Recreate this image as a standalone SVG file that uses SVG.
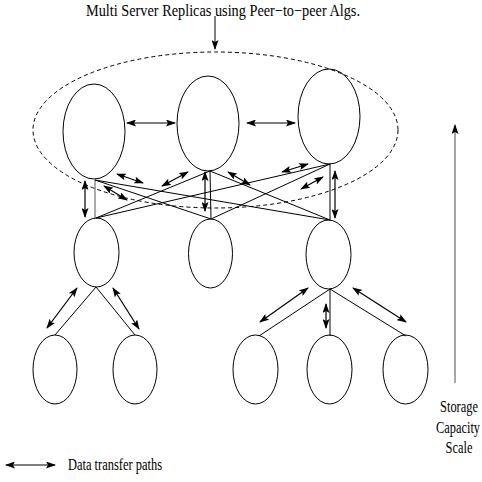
<svg xmlns="http://www.w3.org/2000/svg" width="482" height="482" viewBox="0 0 482 482">
<style>
.n{fill:none;stroke:#000;stroke-width:1}
.l{stroke:#000;stroke-width:1;fill:none}
.a{stroke:#000;stroke-width:1.2;fill:none;marker-start:url(#ah);marker-end:url(#ah)}
.t{font-family:"Liberation Serif","Times New Roman",serif;font-size:17px;fill:#000}
</style>
<defs>
<marker id="ah" viewBox="0 0 10 7" refX="9" refY="3.5" markerWidth="10" markerHeight="7" markerUnits="userSpaceOnUse" orient="auto-start-reverse">
<path d="M0,0 L10,3.5 L0,7 L2,3.5 z" fill="#000"/>
</marker>
<marker id="ae" viewBox="0 0 10 7" refX="9" refY="3.5" markerWidth="10" markerHeight="7" markerUnits="userSpaceOnUse" orient="auto">
<path d="M0,0 L10,3.5 L0,7 L2,3.5 z" fill="#000"/>
</marker>
</defs>
<rect width="482" height="482" fill="#fff"/>
<text class="t" x="86" y="16" textLength="274" lengthAdjust="spacingAndGlyphs">Multi Server Replicas using Peer−to−peer Algs.</text>
<g id="connectors">
<line x1="215" y1="16" x2="215" y2="49" stroke="#000" stroke-width="1" marker-end="url(#ae)"/>
<line x1="95" y1="180" x2="95" y2="218" stroke="#555" stroke-width="1"/>
<line x1="95" y1="180" x2="211" y2="219" class="l"/>
<line x1="95" y1="180" x2="330" y2="220" class="l"/>
<line x1="210" y1="171" x2="96" y2="218" class="l"/>
<line x1="210" y1="171" x2="211" y2="219" class="l"/>
<line x1="210" y1="171" x2="330" y2="220" class="l"/>
<line x1="330" y1="164" x2="96" y2="218" class="l"/>
<line x1="330" y1="164" x2="211" y2="219" class="l"/>
<line x1="330" y1="164" x2="330" y2="220" class="l"/>
<line x1="96" y1="287" x2="55" y2="335" class="l"/>
<line x1="96" y1="287" x2="135" y2="335" class="l"/>
<line x1="330" y1="289" x2="259" y2="336" class="l"/>
<line x1="330" y1="289" x2="330" y2="336" class="l"/>
<line x1="330" y1="289" x2="406" y2="336" class="l"/>
<line x1="127" y1="123" x2="175" y2="123" class="a"/>
<line x1="247" y1="123" x2="295" y2="123" class="a"/>
<line x1="85" y1="181" x2="85" y2="217" class="a"/>
<line x1="205" y1="172" x2="205" y2="211" class="a"/>
<line x1="335" y1="171" x2="335" y2="218" class="a"/>
<line x1="117" y1="174" x2="143" y2="183" class="a"/>
<line x1="104" y1="186" x2="127" y2="200" class="a"/>
<line x1="162" y1="186" x2="188" y2="172" class="a"/>
<line x1="228" y1="172" x2="250" y2="185" class="a"/>
<line x1="282" y1="172" x2="308" y2="164" class="a"/>
<line x1="301" y1="189" x2="323" y2="177" class="a"/>
<line x1="47" y1="328" x2="77" y2="288" class="a"/>
<line x1="113" y1="288" x2="139" y2="329" class="a"/>
<line x1="260" y1="322" x2="308" y2="288" class="a"/>
<line x1="326" y1="304" x2="326" y2="328" class="a"/>
<line x1="353" y1="288" x2="406" y2="322" class="a"/>
<line x1="455" y1="383" x2="455" y2="125" stroke="#888" stroke-width="1.5" marker-end="url(#ae)"/>
<line x1="6" y1="465" x2="55" y2="465" class="a"/>
</g>
<ellipse id="group" cx="215.5" cy="130" rx="182.5" ry="78" fill="none" stroke="#000" stroke-width="1" stroke-dasharray="4,3"/>
<g id="top1"><ellipse class="n" cx="94" cy="131.5" rx="31" ry="47.5"/></g>
<g id="top2"><ellipse class="n" cx="208" cy="123.5" rx="31" ry="47.5"/></g>
<g id="top3"><ellipse class="n" cx="329" cy="116.5" rx="31" ry="47.5"/></g>
<g id="mid1"><ellipse class="n" cx="96.5" cy="252.5" rx="22.5" ry="34.5"/></g>
<g id="mid2"><ellipse class="n" cx="210.5" cy="253.5" rx="22" ry="34.5"/></g>
<g id="mid3"><ellipse class="n" cx="328.5" cy="254.5" rx="22.5" ry="34.5"/></g>
<g id="leaf1"><ellipse class="n" cx="55" cy="369.5" rx="22" ry="34.5"/></g>
<g id="leaf2"><ellipse class="n" cx="135" cy="369.5" rx="22" ry="34.5"/></g>
<g id="leaf3"><ellipse class="n" cx="255.5" cy="369.5" rx="22.5" ry="34.5"/></g>
<g id="leaf4"><ellipse class="n" cx="329.5" cy="369.5" rx="22.5" ry="34.5"/></g>
<g id="leaf5"><ellipse class="n" cx="405.5" cy="369.5" rx="22.5" ry="34.5"/></g>
<g id="scale-label">
<text class="t" transform="translate(459,412) scale(0.73,1)" text-anchor="middle">Storage</text>
<text class="t" transform="translate(458,433) scale(0.73,1)" text-anchor="middle">Capacity</text>
<text class="t" transform="translate(459,453) scale(0.73,1)" text-anchor="middle">Scale</text>
</g>
<g id="legend">
<text class="t" x="68" y="470" textLength="94" lengthAdjust="spacingAndGlyphs">Data transfer paths</text>
</g>
</svg>
